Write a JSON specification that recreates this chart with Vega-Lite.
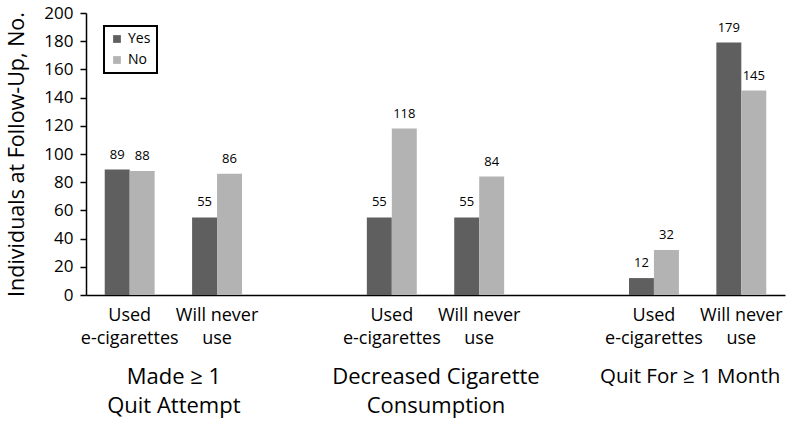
{
  "$schema": "https://vega.github.io/schema/vega-lite/v6.json",
  "width": 699,
  "height": 282,
  "autosize": {"type": "none"},
  "padding": {"left": 86, "top": 13, "right": 5, "bottom": 127},
  "background": "white",
  "config": {"font": "Open Sans", "view": {"stroke": null}},
  "data": {
    "values": [
      {"measure": "Made ≥ 1|Quit Attempt", "slot": "Quit attempt: Used", "response": "Yes", "count": 89},
      {"measure": "Made ≥ 1|Quit Attempt", "slot": "Quit attempt: Used", "response": "No", "count": 88},
      {"measure": "Made ≥ 1|Quit Attempt", "slot": "Quit attempt: Never", "response": "Yes", "count": 55},
      {"measure": "Made ≥ 1|Quit Attempt", "slot": "Quit attempt: Never", "response": "No", "count": 86},
      {"measure": "Decreased Cigarette|Consumption", "slot": "Decreased: Used", "response": "Yes", "count": 55},
      {"measure": "Decreased Cigarette|Consumption", "slot": "Decreased: Used", "response": "No", "count": 118},
      {"measure": "Decreased Cigarette|Consumption", "slot": "Decreased: Never", "response": "Yes", "count": 55},
      {"measure": "Decreased Cigarette|Consumption", "slot": "Decreased: Never", "response": "No", "count": 84},
      {"measure": "Quit For ≥ 1 Month", "slot": "Quit month: Used", "response": "Yes", "count": 12},
      {"measure": "Quit For ≥ 1 Month", "slot": "Quit month: Used", "response": "No", "count": 32},
      {"measure": "Quit For ≥ 1 Month", "slot": "Quit month: Never", "response": "Yes", "count": 179},
      {"measure": "Quit For ≥ 1 Month", "slot": "Quit month: Never", "response": "No", "count": 145}
    ]
  },
  "layer": [
    {
      "layer": [
        {
          "mark": {"type": "bar"},
          "encoding": {
            "x": {
              "field": "slot",
              "type": "nominal",
              "sort": null,
              "scale": {
                "domain": ["Quit attempt: Used", "Quit attempt: Never", "gap 1", "Decreased: Used", "Decreased: Never", "gap 2", "Quit month: Used", "Quit month: Never"],
                "paddingInner": 0,
                "paddingOuter": 0
              },
              "axis": {
                "orient": "bottom",
                "title": null,
                "labelAngle": 0,
                "ticks": false,
                "tickSize": 0,
                "domainColor": "black",
                "domainWidth": 1.5,
                "labelFontSize": 18,
                "labelColor": "black",
                "labelPadding": 11,
                "labelLineHeight": 23,
                "labelLimit": 0,
                "labelOverlap": false,
                "labelBound": false,
                "labelFlush": false,
                "labelExpr": "indexof(datum.value,'Used')>=0 ? ['Used','e-cigarettes'] : (indexof(datum.value,'Never')>=0 ? ['Will never','use'] : '')"
              }
            },
            "xOffset": {
              "field": "response",
              "type": "nominal",
              "scale": {"domain": ["Yes", "No"], "paddingInner": 0, "paddingOuter": 0.75}
            },
            "y": {
              "field": "count",
              "type": "quantitative",
              "scale": {"domain": [0, 200], "nice": false},
              "axis": {
                "title": "Individuals at Follow-Up, No.",
                "values": [0, 20, 40, 60, 80, 100, 120, 140, 160, 180, 200],
                "grid": false,
                "domainColor": "black",
                "domainWidth": 1.5,
                "tickColor": "black",
                "tickSize": 6,
                "tickWidth": 1.5,
                "labelFontSize": 17,
                "labelColor": "black",
                "labelPadding": 7,
                "labelOverlap": false,
                "labelFlush": false,
                "labelBound": false,
                "titleFontSize": 21.5,
                "titleFontWeight": "normal",
                "titleColor": "black",
                "titlePadding": 15
              }
            },
            "color": {
              "field": "response",
              "type": "nominal",
              "scale": {"domain": ["Yes", "No"], "range": ["#5f5f5f", "#b3b3b3"]},
              "legend": {
                "title": null,
                "orient": "none",
                "legendX": 18,
                "legendY": 13,
                "strokeColor": "black",
                "fillColor": "white",
                "padding": 6,
                "rowPadding": 7,
                "symbolType": "square",
                "symbolSize": 60,
                "symbolStrokeWidth": 0,
                "labelFontSize": 14,
                "labelColor": "black",
                "labelOffset": 4,
                "encode": {"legend": {"update": {"strokeWidth": {"value": 2}}}}
              }
            }
          }
        },
        {
          "mark": {"type": "text", "baseline": "alphabetic", "dy": -11, "fontSize": 13, "color": "black"},
          "encoding": {
            "x": {"field": "slot", "type": "nominal", "sort": null},
            "xOffset": {"field": "response", "type": "nominal"},
            "y": {
              "field": "count",
              "type": "quantitative",
              "axis": {
                "title": "Individuals at Follow-Up, No.",
                "values": [0, 20, 40, 60, 80, 100, 120, 140, 160, 180, 200],
                "grid": false,
                "domainColor": "black",
                "domainWidth": 1.5,
                "tickColor": "black",
                "tickSize": 6,
                "tickWidth": 1.5,
                "labelFontSize": 17,
                "labelColor": "black",
                "labelPadding": 7,
                "labelOverlap": false,
                "labelFlush": false,
                "labelBound": false,
                "titleFontSize": 21.5,
                "titleFontWeight": "normal",
                "titleColor": "black",
                "titlePadding": 15
              }
            },
            "text": {"field": "count", "type": "quantitative"}
          }
        }
      ]
    },
    {
      "mark": {"type": "point", "opacity": 0},
      "encoding": {
        "x": {
          "field": "measure",
          "type": "nominal",
          "sort": null,
          "scale": {
            "type": "point",
            "domain": ["Made ≥ 1|Quit Attempt", "Decreased Cigarette|Consumption", "Quit For ≥ 1 Month"],
            "padding": 0.3333
          },
          "axis": {
            "orient": "bottom",
            "title": null,
            "domain": false,
            "ticks": false,
            "tickSize": 0,
            "labelAngle": 0,
            "labelFontSize": {"condition": {"test": "datum.value == 'Quit For ≥ 1 Month'", "value": 20.5}, "value": 22},
            "labelOffset": {"condition": {"test": "datum.value == 'Quit For ≥ 1 Month'", "value": -8}, "value": 0},
            "labelColor": "black",
            "labelPadding": 71,
            "labelLineHeight": 29,
            "labelLimit": 0,
            "labelOverlap": false,
            "labelBound": false,
            "labelFlush": false,
            "labelExpr": "split(datum.value,'|')"
          }
        }
      }
    }
  ],
  "resolve": {"scale": {"x": "independent"}, "axis": {"x": "independent"}}
}
